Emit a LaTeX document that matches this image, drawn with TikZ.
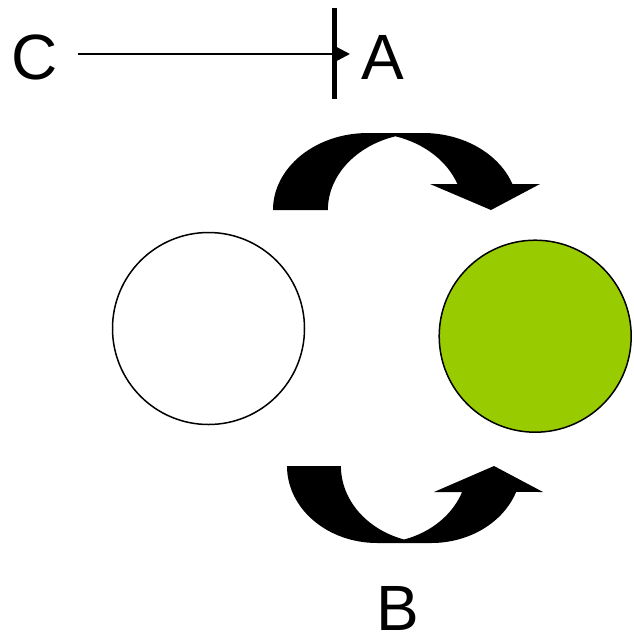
\documentclass[tikz,border=0pt]{standalone}
\usepackage{fontspec}
\setmainfont{Liberation Sans}
\usetikzlibrary{arrows.meta}
\definecolor{leafgreen}{HTML}{99CC00}
\begin{document}
\begin{tikzpicture}[x=1pt,y=-1pt,
  lbl/.style={inner sep=0pt, anchor=base, font=\fontsize{64}{70}\selectfont},
  ring/.style={circle, draw=black, line width=1.5pt, minimum size=192pt, inner sep=0pt},
  curvedshape/.style={fill=black, draw=none}]
\useasboundingbox (0,0) rectangle (633,638);
% labels
\node[lbl] (C) at (35,79) {C};
\node[lbl] (A) at (382.5,79) {A};
\node[lbl] (B) at (398,630) {B};
% circles
\node[ring, fill=white] (left) at (208.5,328.5) {};
\node[ring, fill=leafgreen] (right) at (535.2,336.2) {};
% C -> A with bar
\coordinate (start) at (78,54);
\coordinate (tip) at (350,54);
\coordinate (bartop) at (334,8);
\coordinate (barbot) at (334,99);
\draw[line width=2.5pt, -{Triangle[length=14pt,width=14pt]}] (start) -- (tip);
\draw[line width=5pt] (bartop) -- (barbot);
% top curved arrow
\fill[curvedshape] (273,210)
  arc[start angle=180, end angle=270, x radius=95, y radius=77]
  -- (423,133)
  arc[start angle=270, end angle=340.3, x radius=95, y radius=77]
  -- (540,184) -- (491,210) -- (430,184) -- (457.4,184.05)
  arc[start angle=340.3, end angle=286.8, x radius=95, y radius=77]
  arc[start angle=253.2, end angle=180, x radius=95, y radius=77]
  -- cycle;
% bottom curved arrow
\fill[curvedshape] (287,466)
  arc[start angle=180, end angle=90, x radius=90.2, y radius=77]
  -- (431.2,543)
  arc[start angle=90, end angle=19.7, x radius=90.2, y radius=77]
  -- (543,492) -- (494,466) -- (434,492) -- (462.1,492)
  arc[start angle=19.7, end angle=72.6, x radius=90.2, y radius=77]
  arc[start angle=107.4, end angle=180, x radius=90.2, y radius=77]
  -- cycle;
\end{tikzpicture}
\end{document}
